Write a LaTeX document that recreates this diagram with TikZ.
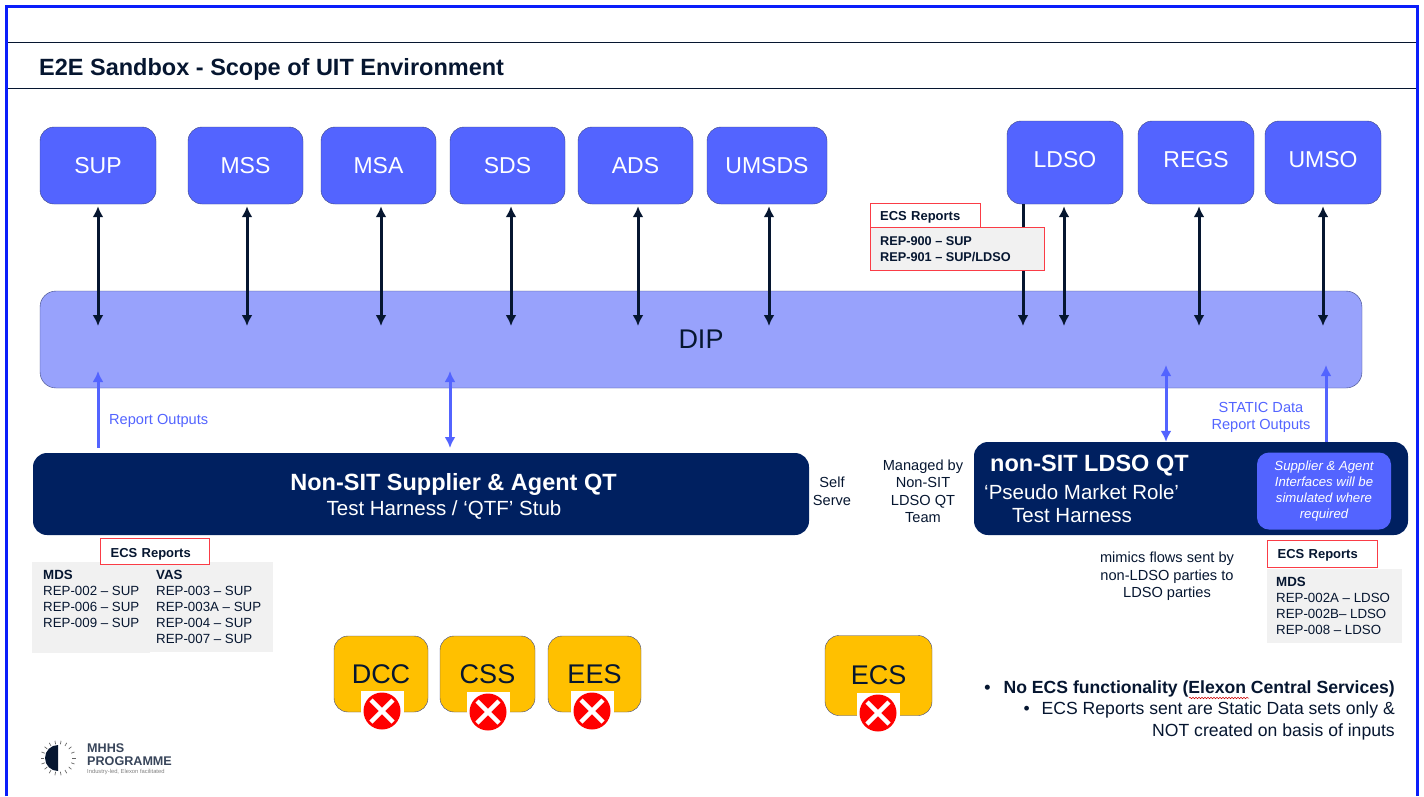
\documentclass[tikz,border=0pt]{standalone}
\usepackage{fontspec}
\setmainfont{Liberation Sans}
\usetikzlibrary{arrows.meta,decorations.pathmorphing}
\definecolor{framebl}{RGB}{10,30,250}
\definecolor{rolebl}{RGB}{83,100,255}
\definecolor{dipbl}{RGB}{152,162,252}
\definecolor{navybl}{RGB}{0,32,96}
\definecolor{inkbl}{RGB}{6,22,48}
\definecolor{edgebl}{RGB}{60,70,130}
\definecolor{ecsred}{RGB}{250,60,70}
\definecolor{panelgr}{RGB}{241,241,241}
\definecolor{orangeb}{RGB}{255,192,0}
\newcommand{\fsz}[1]{\fontsize{#1}{1.32em}\selectfont}
\tikzset{
  rolebox/.style={draw=edgebl,fill=rolebl,text=white,rounded corners=14,minimum height=77,inner sep=0pt,font=\fsz{23}},
  dcabox/.style={draw=edgebl,fill=orangeb,text=inkbl,rounded corners=14,inner sep=0pt,font=\fsz{27}},
  qtbox/.style={fill=navybl,rounded corners=14,inner sep=0pt},
  ecstag/.style={draw=ecsred,line width=1.2,fill=white,anchor=north west,inner xsep=10,inner ysep=0pt,minimum height=26,align=left,text=inkbl,font=\bfseries\fsz{13}},
  panel/.style={fill=panelgr,anchor=north west,inner sep=0pt},
  lines/.style={anchor=north west,inner sep=0pt,align=left,text=inkbl,font=\fontsize{13.3}{16}\selectfont},
  note/.style={inner sep=0pt,align=center,text=inkbl,font=\fontsize{14.6}{17.5}\selectfont},
  bluenote/.style={inner sep=0pt,align=center,text=rolebl,font=\fontsize{14.6}{17.5}\selectfont},
  flow/.style={{Latex[length=11,width=11]}-{Latex[length=11,width=11]},line width=3,draw=inkbl},
  downflow/.style={-{Latex[length=11,width=11]},line width=3,draw=inkbl},
  bluebi/.style={{Latex[length=11,width=11]}-{Latex[length=11,width=11]},line width=3,draw=rolebl},
  blueup/.style={-{Latex[length=11,width=11]},line width=3,draw=rolebl},
  whitepatch/.style={fill=white,minimum width=43,minimum height=40,inner sep=0pt},
  crossmark/.style={circle,fill=red,minimum size=37,inner sep=0pt,
    path picture={\draw[white,line width=4.5]
      (path picture bounding box.center) +(-11,-11) -- +(11,11)
      (path picture bounding box.center) +(-11,11) -- +(11,-11);}},
}
\begin{document}
\begin{tikzpicture}[x=1pt,y=-1pt]
\useasboundingbox (0,0) rectangle (1424,796);
% frame and title
\draw[framebl,line width=3.4] (6.5,796) -- (6.5,6.5) -- (1417.5,6.5) -- (1417.5,796);
\draw[inkbl,line width=0.9] (8,42) -- (1416,42);
\draw[inkbl,line width=0.9] (8,88) -- (1416,88);
\node[anchor=west,inner sep=0pt,text=inkbl,font=\bfseries\fsz{23.5}] (title) at (39,69.5) {E2E Sandbox - Scope of UIT Environment};
% DIP
\node[draw=edgebl,fill=dipbl,rounded corners=16,minimum width=1322,minimum height=97,inner sep=0pt,text=inkbl,font=\fsz{27}] (dip) at (701,339.5) {DIP};
\coordinate (dipline) at (0,326);
\coordinate (dipedge) at (0,371);
% market roles
\node[rolebox,minimum width=116] (sup) at (98,165.5) {SUP};
\node[rolebox,minimum width=115] (mss) at (245.5,165.5) {MSS};
\node[rolebox,minimum width=115] (msa) at (378.5,165.5) {MSA};
\node[rolebox,minimum width=115] (sds) at (507.5,165.5) {SDS};
\node[rolebox,minimum width=115] (ads) at (635.5,165.5) {ADS};
\node[rolebox,minimum width=120] (umsds) at (767,165.5) {UMSDS};
\node[rolebox,minimum width=116,minimum height=83] (ldso) at (1065,162.5) {\raisebox{7pt}{LDSO}};
\node[rolebox,minimum width=116,minimum height=83] (regs) at (1196,162.5) {\raisebox{7pt}{REGS}};
\node[rolebox,minimum width=116,minimum height=83] (umso) at (1323,162.5) {\raisebox{7pt}{UMSO}};
\foreach \nm/\ax in {sup/98,mss/247,msa/381,sds/511,ads/638,umsds/769,ldso/1064,regs/1199,umso/1323}
  \draw[flow,shorten <=2] (\ax,0 |- \nm.south) -- (\ax,0 |- dipline);
\draw[downflow] (1023,0 |- ldso.south) -- (1023,0 |- dipline);
% QT boxes
\node[qtbox,minimum width=776,minimum height=82] (supqt) at (421,494) {};
\node[anchor=center,inner sep=0pt,text=white,font=\bfseries\fsz{23.5}] (supqta) at (453.5,484) {Non-SIT Supplier \& Agent QT};
\node[anchor=center,inner sep=0pt,text=white,font=\fsz{20.5}] (supqtb) at (444,510) {Test Harness / ‘QTF’ Stub};
\node[qtbox,minimum width=434,minimum height=93] (ldsoqt) at (1191,488.5) {};
\node[anchor=west,inner sep=0pt,text=white,font=\bfseries\fsz{23.5}] (ldsoqta) at (990,466) {non-SIT LDSO QT};
\node[anchor=west,inner sep=0pt,text=white,font=\fsz{20.5}] (ldsoqtb) at (984,492) {‘Pseudo Market Role’};
\node[anchor=west,inner sep=0pt,text=white,font=\fsz{20.5}] (ldsoqtc) at (1012,516) {Test Harness};
\node[fill=rolebl,rounded corners=12,minimum width=134,minimum height=77,inner sep=0pt,align=center,text=white,font=\itshape\fontsize{13.2}{16}\selectfont] (simnote) at (1324,491) {Supplier \& Agent\\Interfaces will be\\simulated where\\required};
% blue flows
\draw[blueup] (98,0 |- supqt.north) ++(0,-5) -- (98,0 |- dipedge);
\draw[bluebi] (450,0 |- dipedge) -- (450,448);
\draw[bluebi] (1166,365) -- (1166,0 |- ldsoqt.north);
\draw[blueup] (1326,0 |- ldsoqt.north) -- (1326,365);
\node[bluenote,anchor=west] (repout) at (109,421) {Report Outputs};
\node[bluenote] (staticout) at (1261,417.5) {STATIC Data\\Report Outputs};
% side notes
\node[note] (selfserve) at (832,491.5) {Self\\Serve};
\node[note] (managed) at (923,491.5) {Managed by\\Non-SIT\\LDSO QT\\Team};
\node[note] (mimics) at (1167,576.5) {mimics flows sent by\\non-LDSO parties to\\LDSO parties};
% ECS reports, top
\node[ecstag,text width=90,minimum height=25] (ecstop) at (869.5,202.5) {\raisebox{-2pt}[9pt][3pt]{ECS Reports}};
\node[draw=ecsred,line width=1.2,fill=panelgr,anchor=north west,inner sep=0pt,minimum width=174,minimum height=43] (reptop) at (869.5,227) {};
\node[lines,font=\bfseries\fontsize{12.7}{16}\selectfont] (reptoptext) at (880,236.5) {REP-900 – SUP\\REP-901 – SUP/LDSO};
% ECS reports, left
\node[panel,minimum width=118,minimum height=91] (mdspanel) at (32,562) {};
\node[panel,minimum width=123,minimum height=90] (vaspanel) at (150,562) {};
\node[ecstag,text width=89] (ecsleft) at (100,538) {\raisebox{-3pt}[9pt][3pt]{ECS Reports}};
\node[lines] (mdstext) at (43,570.5) {\textbf{MDS}\\REP-002 – SUP\\REP-006 – SUP\\REP-009 – SUP};
\node[lines] (vastext) at (156,570.5) {\textbf{VAS}\\REP-003 – SUP\\REP-003A – SUP\\REP-004 – SUP\\REP-007 – SUP};
% ECS reports, right
\node[panel,minimum width=135,minimum height=74] (rightpanel) at (1267,569) {};
\node[ecstag,text width=90,minimum height=27] (ecsright) at (1267,540) {\raisebox{-1.5pt}[9pt][3pt]{ECS Reports}};
\node[lines] (righttext) at (1276,577.5) {\textbf{MDS}\\REP-002A – LDSO\\REP-002B– LDSO\\REP-008 – LDSO};
% out of scope systems
\node[dcabox,minimum width=94,minimum height=76] (dcc) at (381,674) {DCC};
\node[dcabox,minimum width=95,minimum height=76] (css) at (487.5,674) {CSS};
\node[dcabox,minimum width=93,minimum height=76] (ees) at (594.5,674) {EES};
\node[dcabox,minimum width=107,minimum height=80] (ecs) at (878.5,675.5) {ECS};
\foreach \nm/\cx/\cy in {dcc/382/711,css/488/712,ees/592/711,ecs/878/713}{
  \node[whitepatch] (\nm patch) at (\cx,\cy) {};
  \node[crossmark] (\nm x) at (\cx,\cy) {};
}
% bullets
\node[anchor=east,inner sep=0pt,text=inkbl,font=\bfseries\fsz{17.6}] (bullone) at (1395,688.5) {•\hspace{13pt}No ECS functionality (Elexon Central Services)};
\node[anchor=east,inner sep=0pt,text=inkbl,font=\fsz{17.6}] (bulltwo) at (1395,710) {•\hspace{12pt}ECS Reports sent are Static Data sets only \&};
\node[anchor=east,inner sep=0pt,text=inkbl,font=\fsz{17.6}] (bullthree) at (1395,731.5) {NOT created on basis of inputs};
\draw[red!80!black,line width=0.5,decorate,decoration={snake,amplitude=0.8,segment length=3}] (1189,698) -- (1249,698);
% logo
\fill[inkbl] (58,771) arc[start angle=270,end angle=90,radius=13pt] -- cycle;
\foreach \a in {0,20,...,340}
  \draw[black!60,line width=0.7] (58,758) ++(\a:14pt) -- ++(\a:3.5pt);
\node[anchor=west,inner sep=0pt,align=left,text=inkbl!80,font=\bfseries\fontsize{12.6}{13}\selectfont] (logotext) at (87,754.5) {MHHS\\PROGRAMME};
\node[anchor=west,inner sep=0pt,text=black!50,font=\fsz{5.8}] (logotag) at (87,772) {Industry-led, Elexon facilitated};
\end{tikzpicture}
\end{document}
